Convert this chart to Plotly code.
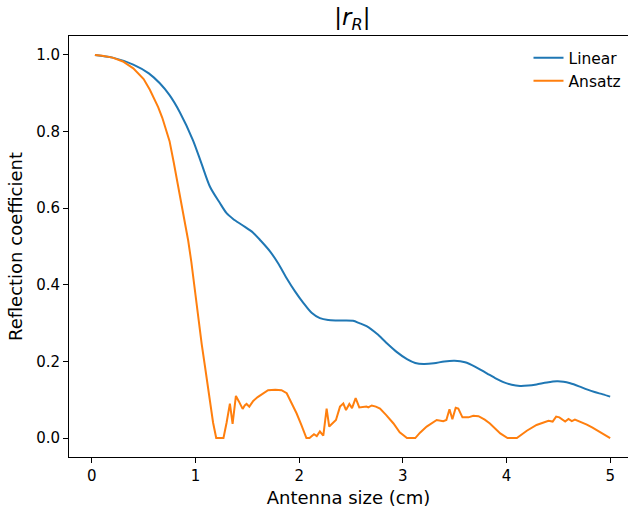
import plotly.graph_objects as go

# Linear series
linear_x = [0.03, 0.2, 0.4, 0.55, 0.656, 0.75, 0.85, 0.975, 1.06, 1.14, 1.234, 1.30, 1.363,
            1.45, 1.556, 1.63, 1.717, 1.80, 1.878, 1.96, 2.04, 2.12, 2.2, 2.28, 2.36, 2.44,
            2.52, 2.58, 2.65, 2.75, 2.84, 2.94, 3.04, 3.12, 3.2, 3.3, 3.4, 3.5, 3.6, 3.7,
            3.81, 3.9, 3.97, 4.05, 4.13, 4.21, 4.29, 4.39, 4.486, 4.55, 4.615, 4.7, 4.775,
            4.85, 4.93, 5.0]
linear_y = [1.0, 0.993, 0.975, 0.952, 0.926, 0.895, 0.85, 0.778, 0.715, 0.656, 0.614, 0.587,
            0.572, 0.556, 0.536, 0.515, 0.488, 0.455, 0.418, 0.383, 0.353, 0.327, 0.313,
            0.308, 0.307, 0.307, 0.306, 0.300, 0.292, 0.272, 0.249, 0.225, 0.206, 0.196,
            0.193, 0.195, 0.200, 0.202, 0.198, 0.186, 0.169, 0.155, 0.146, 0.139, 0.136,
            0.137, 0.140, 0.145, 0.148, 0.147, 0.143, 0.135, 0.127, 0.120, 0.114, 0.108]

# Ansatz series
ansatz_x = [0.03, 0.1, 0.2, 0.3, 0.4, 0.5, 0.56, 0.6, 0.64, 0.68, 0.72, 0.75, 0.79, 0.817,
            0.84, 0.88, 0.914, 0.93, 0.96, 1.0, 1.03, 1.06, 1.09, 1.13, 1.17, 1.20, 1.27,
            1.30, 1.332, 1.358, 1.39, 1.42,
            1.455, 1.475, 1.493, 1.519, 1.557, 1.60, 1.65, 1.70, 1.77, 1.83, 1.88, 1.93,
            1.976, 2.02, 2.07, 2.10, 2.143, 2.17, 2.20, 2.233, 2.265, 2.29, 2.32, 2.355,
            2.394, 2.426, 2.452, 2.484, 2.51, 2.545, 2.58, 2.62, 2.65, 2.667, 2.70, 2.74,
            2.78, 2.84, 2.91, 2.97, 3.04, 3.12, 3.166, 3.23, 3.28, 3.327, 3.39, 3.42, 3.45,
            3.478, 3.51, 3.535, 3.575, 3.633, 3.68, 3.73, 3.79, 3.84, 3.94, 4.01, 4.10,
            4.196, 4.29, 4.35, 4.405, 4.445, 4.479, 4.51, 4.566, 4.598, 4.63, 4.66, 4.72,
            4.775, 4.83, 4.89, 4.95, 5.0]
ansatz_y = [1.0, 0.998, 0.993, 0.983, 0.965, 0.937, 0.909, 0.888, 0.864, 0.836, 0.804, 0.775,
            0.72, 0.68, 0.648, 0.59, 0.543, 0.515, 0.46, 0.37, 0.3, 0.245, 0.19, 0.115, 0.04,
            0.0, 0.0, 0.04, 0.09, 0.037,
            0.11, 0.095, 0.076, 0.085, 0.089, 0.082, 0.097, 0.107, 0.117, 0.125, 0.126,
            0.125, 0.117, 0.09, 0.064, 0.035, 0.0, 0.0, 0.01, 0.005, 0.017, 0.006, 0.077,
            0.03, 0.038, 0.047, 0.082, 0.09, 0.073, 0.089, 0.078, 0.104, 0.08, 0.081,
            0.082, 0.080, 0.085, 0.082, 0.077, 0.06, 0.038, 0.015, 0.0, 0.0, 0.014, 0.03,
            0.04, 0.047, 0.044, 0.047, 0.075, 0.049, 0.079, 0.077, 0.054, 0.054, 0.058,
            0.057, 0.048, 0.038, 0.012, 0.0, 0.0, 0.019, 0.034, 0.04, 0.045, 0.043, 0.056,
            0.054, 0.043, 0.05, 0.044, 0.048, 0.042, 0.035, 0.027, 0.017, 0.008, 0.0]

x_ticks = [0, 1, 2, 3, 4, 5]
y_ticks = [0.0, 0.2, 0.4, 0.6, 0.8, 1.0]
y_tick_text = ["0.0", "0.2", "0.4", "0.6", "0.8", "1.0"]

FONT = "DejaVu Sans"

fig = go.Figure()
fig.add_trace(go.Scatter(x=linear_x, y=linear_y, mode="lines", name="Linear",
                         line=dict(color="#1f77b4", width=2, shape="spline", smoothing=0.8)))
fig.add_trace(go.Scatter(x=ansatz_x, y=ansatz_y, mode="lines", name="Ansatz",
                         line=dict(color="#ff7f0e", width=2)))

fig.update_layout(
    width=628, height=512,
    margin=dict(l=69, r=0, t=36, b=55),
    paper_bgcolor="white", plot_bgcolor="white",
    font=dict(family=FONT, size=15, color="black"),
    title=dict(text="|<i>r</i><sub><i>R</i></sub>|", x=0.507, xref="paper", xanchor="center",
               y=0.967, yref="container", yanchor="middle",
               font=dict(family=FONT, size=23, color="black")),
    legend=dict(x=0.822, y=0.988, xanchor="left", yanchor="top", bgcolor="rgba(0,0,0,0)",
                font=dict(family=FONT, size=15.5, color="black")),
    showlegend=True,
)
fig.update_xaxes(range=[-0.22, 5.172], tickvals=x_ticks, ticks="outside", ticklen=5,
                 tickwidth=1, tickcolor="black", showline=True, linecolor="black",
                 linewidth=1, mirror=True, showgrid=False, zeroline=False,
                 title=dict(text="Antenna size (cm)", font=dict(family=FONT, size=18),
                            standoff=7),
                 tickfont=dict(family=FONT, size=15))
fig.update_yaxes(range=[-0.0495, 1.0495], tickvals=y_ticks, ticktext=y_tick_text,
                 ticks="outside", ticklen=5, tickwidth=1, tickcolor="black", showline=True,
                 linecolor="black", linewidth=1, mirror=False, showgrid=False,
                 zeroline=False,
                 title=dict(text="Reflection coefficient", font=dict(family=FONT, size=18),
                            standoff=8),
                 tickfont=dict(family=FONT, size=15))

fig.write_html("out.html")
